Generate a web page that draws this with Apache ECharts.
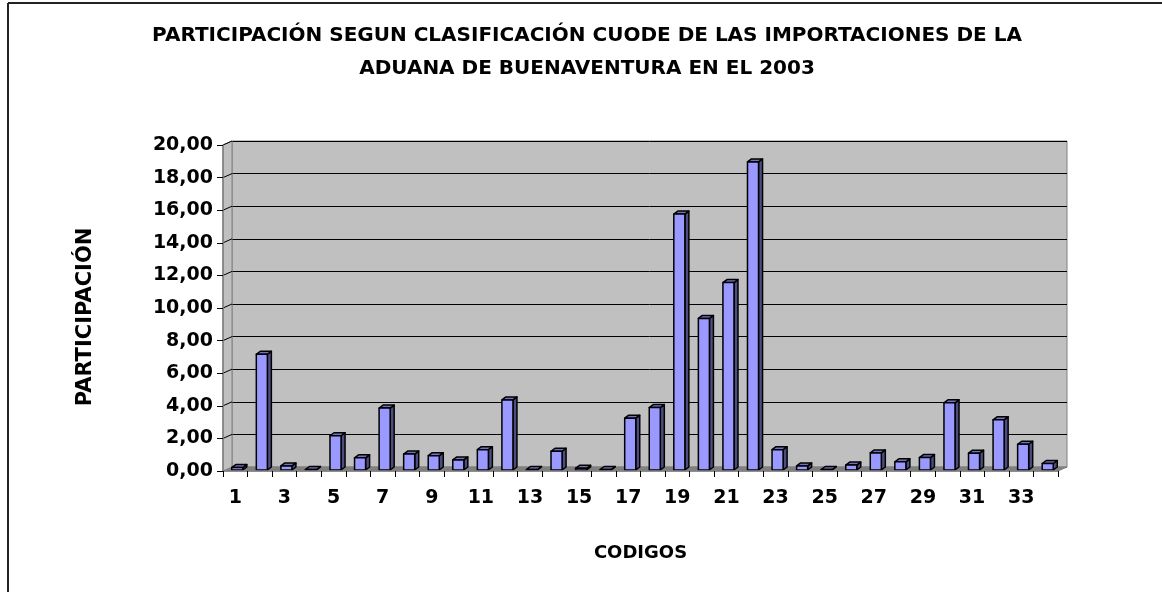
<!DOCTYPE html>
<html>
<head>
<meta charset="utf-8">
<script src="https://cdn.jsdelivr.net/npm/echarts@6/dist/echarts.min.js"></script>
<style>html,body{margin:0;padding:0;background:#fff;}#c{width:1162px;height:592px;}</style>
</head>
<body>
<div id="c"></div>
<script>
const titleLines = ['PARTICIPACIÓN SEGUN CLASIFICACIÓN CUODE DE LAS IMPORTACIONES DE LA', 'ADUANA DE BUENAVENTURA EN EL 2003'];
const xTitle = 'CODIGOS';
const yTitle = 'PARTICIPACIÓN';
const categories = ['1','2','3','4','5','6','7','8','9','10','11','12','13','14','15','16','17','18','19','20','21','22','23','24','25','26','27','28','29','30','31','32','33','34'];
const values = [0.15, 7.10, 0.25, 0.03, 2.10, 0.75, 3.80, 0.98, 0.88, 0.62, 1.25, 4.30, 0.03, 1.15, 0.10, 0.03, 3.18, 3.83, 15.70, 9.30, 11.50, 18.90, 1.25, 0.25, 0.03, 0.30, 1.05, 0.50, 0.76, 4.12, 1.03, 3.08, 1.58, 0.40];
const yTicks = [0, 2, 4, 6, 8, 10, 12, 14, 16, 18, 20];

const WDX = 9, WDY = -4;   // wall depth
const BDX = 4, BDY = -3;   // bar depth
const BOX = 2, BOY = -1;   // bar shift into depth
const FONT = '"DejaVu Sans", "Liberation Sans", Arial, sans-serif';

const chart = echarts.init(document.getElementById('c'), null, {renderer: 'canvas'});

function renderWalls(params, api) {
  const cs = params.coordSys;
  const x0 = cs.x, x1 = cs.x + cs.width, yb = cs.y + cs.height, yt = cs.y;
  const children = [];
  children.push({type: 'polygon', shape: {points: [[x0, yb], [x1, yb], [x1 + WDX, yb + WDY], [x0 + WDX, yb + WDY]]},
    style: {fill: '#808080', stroke: '#808080', lineWidth: 1}});
  children.push({type: 'polygon', shape: {points: [[x0, yb], [x0, yt], [x0 + WDX, yt + WDY], [x0 + WDX, yb + WDY]]},
    style: {fill: '#C0C0C0', stroke: '#808080', lineWidth: 1}});
  yTicks.forEach(function (t) {
    if (t === 0) return;
    const y = api.coord([0, t])[1];
    children.push({type: 'line', shape: {x1: x0, y1: y, x2: x0 + WDX, y2: y + WDY}, style: {stroke: '#000', lineWidth: 1}});
  });
  return {type: 'group', children: children, silent: true};
}

function renderBar(params, api) {
  const i = api.value(0), v = api.value(1);
  const base = api.coord([i, 0]);
  const top = api.coord([i, v]);
  const bw = api.size([1, 0])[0] * 0.45;
  const x0 = base[0] - bw / 2 + BOX, x1 = x0 + bw;
  const yb = base[1] + BOY, yt = top[1] + BOY;
  const st = {stroke: '#000', lineWidth: 1.5, lineJoin: 'round'};
  return {type: 'group', children: [
    {type: 'polygon', shape: {points: [[x1, yb], [x1 + BDX, yb + BDY], [x1 + BDX, yt + BDY], [x1, yt]]}, style: Object.assign({fill: '#4D4D80'}, st)},
    {type: 'polygon', shape: {points: [[x0, yt], [x1, yt], [x1 + BDX, yt + BDY], [x0 + BDX, yt + BDY]]}, style: Object.assign({fill: '#7373BF'}, st)},
    {type: 'rect', shape: {x: x0, y: yt, width: bw, height: Math.max(0, yb - yt)}, style: Object.assign({fill: '#9999FF'}, st)}
  ]};
}

const option = {
  animation: false,
  backgroundColor: '#fff',
  textStyle: {fontFamily: FONT},
  graphic: [
    {type: 'line', shape: {x1: 8, y1: 3, x2: 1162, y2: 3}, style: {stroke: '#222', lineWidth: 2}},
    {type: 'line', shape: {x1: 8, y1: 3, x2: 8, y2: 592}, style: {stroke: '#222', lineWidth: 2}},
    {type: 'text', x: 587, y: 36, style: {text: titleLines[0], font: 'bold 20px ' + FONT, fill: '#000', align: 'center', verticalAlign: 'middle'}},
    {type: 'text', x: 587, y: 69, style: {text: titleLines[1], font: 'bold 20px ' + FONT, fill: '#000', align: 'center', verticalAlign: 'middle'}},
    {type: 'text', x: 86, y: 317, rotation: Math.PI / 2, style: {text: yTitle, font: 'bold 21px ' + FONT, fill: '#000', align: 'center', verticalAlign: 'middle'}}
  ],
  grid: [
    {left: 223, top: 145, width: 835, height: 326, containLabel: false},
    {left: 223 + WDX, top: 145 + WDY, width: 835, height: 326, show: true, backgroundColor: '#C0C0C0', borderColor: '#808080', borderWidth: 1, z: 0}
  ],
  xAxis: [
    {type: 'category', gridIndex: 0, data: categories, boundaryGap: true,
      name: xTitle, nameLocation: 'middle', nameGap: 73,
      nameTextStyle: {fontFamily: FONT, fontWeight: 'bold', fontSize: 18, color: '#000'},
      axisLine: {show: true, lineStyle: {color: '#808080', width: 1.5}},
      axisTick: {show: true, interval: 0, length: 6, lineStyle: {color: '#000', width: 1}},
      axisLabel: {interval: 1, margin: 18, fontFamily: FONT, fontWeight: 'bold', fontSize: 19, color: '#000'},
      splitLine: {show: false}, z: 5},
    {type: 'category', gridIndex: 1, data: categories, show: false}
  ],
  yAxis: [
    {type: 'value', gridIndex: 0, min: 0, max: 20, interval: 2,
      axisLine: {show: true, lineStyle: {color: '#808080', width: 1.5}},
      axisTick: {show: true, length: 6, lineStyle: {color: '#000', width: 1}},
      axisLabel: {margin: 10, fontFamily: FONT, fontWeight: 'bold', fontSize: 19, color: '#000',
        formatter: function (v) { return v.toFixed(2).replace('.', ','); }},
      splitLine: {show: false}, z: 5},
    {type: 'value', gridIndex: 1, min: 0, max: 20, interval: 2,
      axisLine: {show: false}, axisTick: {show: false}, axisLabel: {show: false},
      splitLine: {show: true, lineStyle: {color: '#000', width: 1}}}
  ],
  series: [
    {type: 'custom', xAxisIndex: 0, yAxisIndex: 0, renderItem: renderWalls, data: [[0, 0]], z: 1, silent: true},
    {type: 'custom', xAxisIndex: 0, yAxisIndex: 0, renderItem: renderBar,
      data: values.map(function (v, i) { return [i, v]; }), z: 3,
      encode: {x: 0, y: 1}}
  ]
};
chart.setOption(option);
</script>
</body>
</html>
